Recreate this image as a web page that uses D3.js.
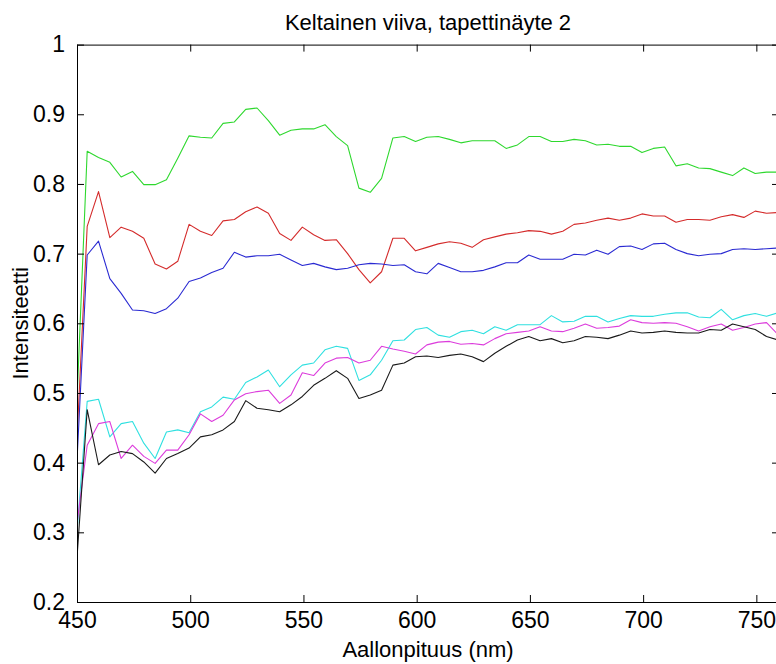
<!DOCTYPE html>
<html>
<head>
<meta charset="utf-8">
<script src="https://cdn.jsdelivr.net/npm/d3@7"></script>
<style>
  html, body { margin: 0; padding: 0; background: #fff; }
  svg { display: block; }
  text { font-family: "Liberation Sans", Arial, sans-serif; fill: #000; }
</style>
</head>
<body>
<svg id="chart" width="776" height="664"></svg>
<script>
// Sampling wavelengths (nm)
const wavelengths = [
  449.5, 454.5, 459.5, 464.5, 469.5, 474.5, 479.5, 484.5, 489.5, 494.5,
  499.5, 504.5, 509.5, 514.5, 519.5, 524.5, 529.5, 534.5, 539.5, 544.5,
  549.5, 554.5, 559.5, 564.5, 569.5, 574.5, 579.5, 584.5, 589.5, 594.5,
  599.5, 604.5, 609.5, 614.5, 619.5, 624.5, 629.5, 634.5, 639.5, 644.5,
  649.5, 654.5, 659.5, 664.5, 669.5, 674.5, 679.5, 684.5, 689.5, 694.5,
  699.5, 704.5, 709.5, 714.5, 719.5, 724.5, 729.5, 734.5, 739.5, 744.5,
  749.5, 754.5, 759.5
];

const greenSeries = [
  0.45, 0.847, 0.838, 0.831, 0.810, 0.818, 0.799, 0.799, 0.806, 0.837,
  0.869, 0.867, 0.866, 0.887, 0.889, 0.907, 0.909, 0.891, 0.870, 0.877,
  0.879, 0.879, 0.885, 0.868, 0.855, 0.794, 0.788, 0.808, 0.866, 0.868,
  0.861, 0.867, 0.868, 0.864, 0.859, 0.862, 0.862, 0.862, 0.851, 0.856,
  0.868, 0.868, 0.861, 0.861, 0.864, 0.862, 0.856, 0.857, 0.854, 0.854,
  0.845, 0.851, 0.853, 0.826, 0.829, 0.823, 0.822, 0.817, 0.812, 0.823,
  0.815, 0.817, 0.817
];

const redSeries = [
  0.40, 0.739, 0.789, 0.723, 0.738, 0.732, 0.722, 0.685, 0.678, 0.689,
  0.742, 0.732, 0.726, 0.747, 0.749, 0.760, 0.767, 0.758, 0.729, 0.719,
  0.738, 0.727, 0.719, 0.720, 0.700, 0.677, 0.658, 0.674, 0.722, 0.722,
  0.704, 0.709, 0.714, 0.717, 0.715, 0.709, 0.720, 0.724, 0.728, 0.730,
  0.733, 0.732, 0.728, 0.732, 0.742, 0.744, 0.748, 0.751, 0.748, 0.751,
  0.757, 0.754, 0.754, 0.745, 0.749, 0.749, 0.748, 0.753, 0.756, 0.752,
  0.761, 0.758, 0.759
];

const blueSeries = [
  0.37, 0.698, 0.718, 0.664, 0.643, 0.619, 0.618, 0.614, 0.621, 0.636,
  0.660, 0.665, 0.673, 0.679, 0.702, 0.695, 0.697, 0.697, 0.699, 0.691,
  0.683, 0.686, 0.681, 0.677, 0.679, 0.684, 0.686, 0.685, 0.683, 0.684,
  0.674, 0.671, 0.686, 0.680, 0.674, 0.674, 0.676, 0.681, 0.687, 0.687,
  0.698, 0.692, 0.692, 0.692, 0.699, 0.698, 0.705, 0.699, 0.710, 0.711,
  0.706, 0.714, 0.715, 0.706, 0.700, 0.697, 0.699, 0.700, 0.706, 0.707,
  0.706, 0.707, 0.708
];

const cyanSeries = [
  0.28, 0.488, 0.491, 0.437, 0.456, 0.459, 0.428, 0.406, 0.444, 0.447,
  0.443, 0.473, 0.480, 0.494, 0.491, 0.515, 0.523, 0.533, 0.509, 0.526,
  0.540, 0.543, 0.562, 0.567, 0.564, 0.518, 0.526, 0.547, 0.575, 0.576,
  0.591, 0.594, 0.583, 0.580, 0.588, 0.590, 0.585, 0.595, 0.590, 0.598,
  0.598, 0.598, 0.611, 0.602, 0.603, 0.610, 0.610, 0.602, 0.607, 0.611,
  0.610, 0.610, 0.613, 0.615, 0.615, 0.609, 0.608, 0.620, 0.605, 0.611,
  0.614, 0.610, 0.615
];

const magentaSeries = [
  0.30, 0.425, 0.456, 0.459, 0.406, 0.425, 0.409, 0.399, 0.418, 0.418,
  0.440, 0.470, 0.459, 0.468, 0.490, 0.499, 0.502, 0.504, 0.485, 0.497,
  0.529, 0.525, 0.543, 0.550, 0.551, 0.543, 0.547, 0.567, 0.563, 0.560,
  0.556, 0.569, 0.573, 0.574, 0.570, 0.571, 0.569, 0.578, 0.585, 0.587,
  0.589, 0.595, 0.589, 0.588, 0.593, 0.599, 0.593, 0.594, 0.596, 0.605,
  0.601, 0.600, 0.601, 0.600, 0.595, 0.589, 0.595, 0.599, 0.590, 0.594,
  0.599, 0.601, 0.584
];

const blackSeries = [
  0.24, 0.476, 0.397, 0.411, 0.416, 0.413, 0.401, 0.385, 0.406, 0.413,
  0.421, 0.437, 0.440, 0.447, 0.459, 0.489, 0.478, 0.476, 0.473, 0.483,
  0.495, 0.511, 0.521, 0.532, 0.521, 0.492, 0.497, 0.504, 0.540, 0.543,
  0.552, 0.553, 0.551, 0.554, 0.556, 0.552, 0.545, 0.557, 0.567, 0.576,
  0.581, 0.575, 0.578, 0.572, 0.575, 0.581, 0.580, 0.578, 0.583, 0.589,
  0.586, 0.587, 0.589, 0.587, 0.586, 0.586, 0.591, 0.590, 0.599, 0.595,
  0.591, 0.581, 0.576
];

const xTicks = [450, 500, 550, 600, 650, 700, 750];
const yTicks = [0.2, 0.3, 0.4, 0.5, 0.6, 0.7, 0.8, 0.9, 1];

const titleText = "Keltainen viiva, tapettinäyte 2";
const xLabelText = "Aallonpituus (nm)";
const yLabelText = "Intensiteetti";

const series = [
  { name: "green", color: "#2ed82e", values: greenSeries },
  { name: "red", color: "#d42b2b", values: redSeries },
  { name: "blue", color: "#2a2ad2", values: blueSeries },
  { name: "cyan", color: "#2fe0e0", values: cyanSeries },
  { name: "magenta", color: "#dc3cdc", values: magentaSeries },
  { name: "black", color: "#1a1a1a", values: blackSeries }
];

const margin = { left: 77, top: 44.6, right: 779, bottom: 602 };

const svg = d3.select("#chart");

const x = d3.scaleLinear().domain([450, 760]).range([margin.left, margin.right]);
const y = d3.scaleLinear().domain([0.2, 1]).range([margin.bottom, margin.top]);

svg.append("defs").append("clipPath").attr("id", "plot-clip")
  .append("rect")
  .attr("x", margin.left).attr("y", margin.top)
  .attr("width", margin.right - margin.left)
  .attr("height", margin.bottom - margin.top);

// Data lines
const line = d3.line()
  .x((d, i) => x(wavelengths[i]))
  .y(d => y(d));

const plot = svg.append("g").attr("clip-path", "url(#plot-clip)");
plot.selectAll("path.series")
  .data(series)
  .join("path")
  .attr("class", "series")
  .attr("fill", "none")
  .attr("stroke", d => d.color)
  .attr("stroke-width", 1.1)
  .attr("stroke-linejoin", "round")
  .attr("d", d => line(d.values));

// Axes with inward ticks (box style)
const tickLen = 7;
const fontSize = 23;

const bottomAxis = svg.append("g")
  .attr("transform", `translate(0,${margin.bottom})`)
  .call(d3.axisBottom(x).tickValues(xTicks).tickSizeInner(-tickLen).tickSizeOuter(0).tickPadding(tickLen + 3).tickFormat(d3.format("d")));
const topAxis = svg.append("g")
  .attr("transform", `translate(0,${margin.top})`)
  .call(d3.axisTop(x).tickValues(xTicks).tickSizeInner(-tickLen).tickSizeOuter(0).tickFormat(""));
const leftAxis = svg.append("g")
  .attr("transform", `translate(${margin.left},0)`)
  .call(d3.axisLeft(y).tickValues(yTicks).tickSizeInner(-tickLen).tickSizeOuter(0).tickPadding(tickLen + 5).tickFormat(d => d === 1 ? "1" : d3.format(".1f")(d)));
const rightAxis = svg.append("g")
  .attr("transform", `translate(${margin.right},0)`)
  .call(d3.axisRight(y).tickValues(yTicks).tickSizeInner(-tickLen).tickSizeOuter(0).tickFormat(""));

[bottomAxis, topAxis, leftAxis, rightAxis].forEach(g => {
  g.select(".domain").attr("stroke", "#000").attr("stroke-width", 1);
  g.selectAll(".tick line").attr("stroke", "#000").attr("stroke-width", 1);
  g.selectAll(".tick text")
    .style("font-family", '"Liberation Sans", Arial, sans-serif')
    .style("font-size", fontSize + "px")
    .attr("fill", "#000");
});

// Title and axis labels
svg.append("text")
  .attr("x", (margin.left + margin.right) / 2)
  .attr("y", 30)
  .attr("text-anchor", "middle")
  .style("font-size", "22px")
  .text(titleText);

svg.append("text")
  .attr("x", (margin.left + margin.right) / 2)
  .attr("y", 657)
  .attr("text-anchor", "middle")
  .style("font-size", "22px")
  .text(xLabelText);

svg.append("text")
  .attr("transform", `translate(28,${(margin.top + margin.bottom) / 2}) rotate(-90)`)
  .attr("text-anchor", "middle")
  .style("font-size", "22px")
  .text(yLabelText);
</script>
</body>
</html>
